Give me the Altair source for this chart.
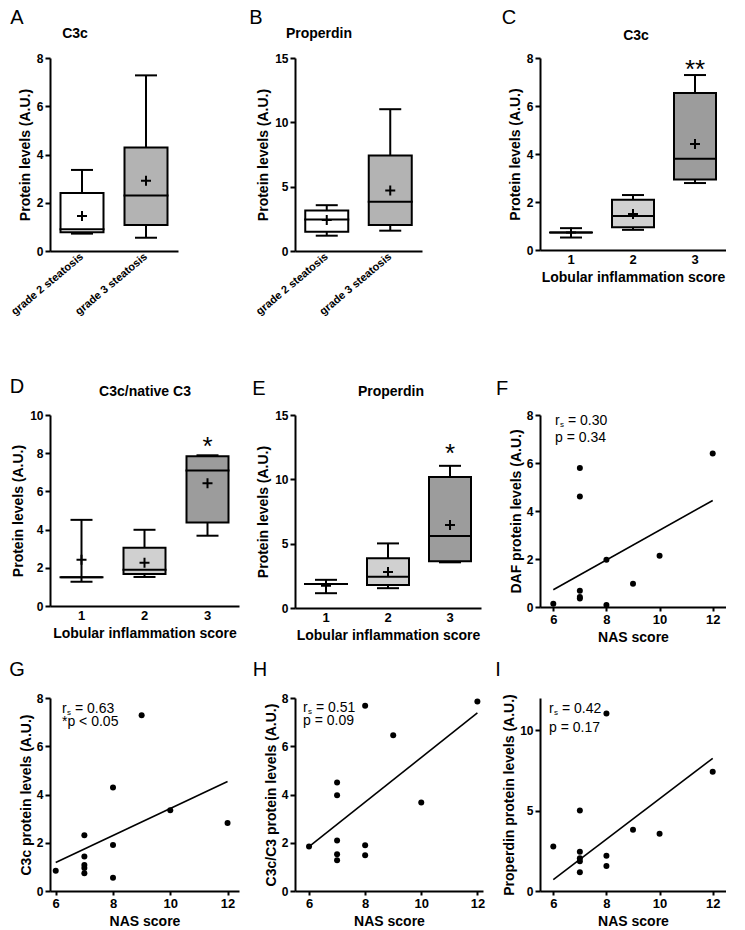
import altair as alt
import pandas as pd

FONT = "Liberation Sans"
YTITLE = "Protein levels (A.U.)"

# ---------- Box-plot data (min, Q1, median, Q3, max, mean) ----------
a_groups = ["grade 2 steatosis", "grade 3 steatosis"]
a_min = [0.72, 0.55]
a_q1 = [0.78, 1.08]
a_med = [0.90, 2.30]
a_q3 = [2.40, 4.29]
a_max = [3.36, 7.28]
a_mean = [1.45, 2.91]
a_fill = ["#ffffff", "#b3b3b3"]

b_groups = ["grade 2 steatosis", "grade 3 steatosis"]
b_min = [1.19, 1.58]
b_q1 = [1.50, 2.02]
b_med = [2.45, 3.82]
b_q3 = [3.15, 7.42]
b_max = [3.56, 11.02]
b_mean = [2.40, 4.71]
b_fill = ["#ffffff", "#b3b3b3"]

score_groups = ["1", "2", "3"]
score_fill = ["#ffffff", "#d0d0d0", "#9c9c9c"]

c_min = [0.52, 0.84, 2.79]
c_q1 = [0.73, 0.95, 2.94]
c_med = [0.73, 1.42, 3.80]
c_q3 = [0.73, 2.09, 6.54]
c_max = [0.91, 2.29, 7.29]
c_mean = [0.73, 1.50, 4.42]

d_min = [1.27, 1.52, 3.68]
d_q1 = [1.50, 1.67, 4.37]
d_med = [1.50, 1.90, 7.09]
d_q3 = [1.50, 3.05, 7.84]
d_max = [4.51, 3.99, 7.89]
d_mean = [2.42, 2.26, 6.43]

e_min = [1.15, 1.54, 3.55]
e_q1 = [1.86, 1.78, 3.63]
e_med = [1.86, 2.43, 5.59]
e_q3 = [1.86, 3.87, 10.19]
e_max = [2.19, 5.02, 11.05]
e_mean = [1.73, 2.80, 6.45]

# ---------- Scatter data (NAS score vs protein levels) ----------
f_nas = [6, 7, 7, 7, 7, 7, 8, 8, 9, 10, 12]
f_val = [0.14, 5.79, 4.60, 0.68, 0.42, 0.35, 1.97, 0.08, 0.97, 2.14, 6.40]
f_fit_x = [6, 12]
f_fit_y = [0.72, 4.44]

g_nas = [6, 7, 7, 7, 7, 7, 8, 8, 8, 9, 10, 12]
g_val = [0.84, 2.31, 1.43, 1.08, 0.95, 0.74, 4.29, 1.91, 0.55, 7.29, 3.35, 2.82]
g_fit_x = [6, 12]
g_fit_y = [1.18, 4.54]

h_nas = [6, 7, 7, 7, 7, 7, 8, 8, 8, 9, 10, 12]
h_val = [1.84, 4.50, 3.97, 2.09, 1.52, 1.27, 7.68, 1.90, 1.48, 6.46, 3.67, 7.86]
h_fit_x = [6, 12]
h_fit_y = [1.84, 7.38]

i_nas = [6, 7, 7, 7, 7, 7, 8, 8, 8, 9, 10, 12]
i_val = [2.77, 5.00, 2.44, 2.04, 1.85, 1.17, 11.04, 2.19, 1.56, 3.81, 3.56, 7.42]
i_fit_x = [6, 12]
i_fit_y = [0.71, 8.25]


def text_layer(t, x, y, size=14, weight="normal", align="center", baseline="middle"):
    return alt.Chart(pd.DataFrame({"t": [t]})).mark_text(
        font=FONT, fontSize=size, fontWeight=weight, align=align,
        baseline=baseline, color="black"
    ).encode(x=alt.value(x), y=alt.value(y), text="t:N")


def box_panel(groups, mins, q1s, meds, q3s, maxs, means, fills, ymax, yticks,
              width, height, letter, letter_xy, title, title_xy,
              xtitle=None, angle=0, star=None, star_y=None, box_w=43, cap_w=22,
              xtitle_pad=4):
    df = pd.DataFrame({"g": groups, "lo": mins, "q1": q1s, "med": meds,
                       "q3": q3s, "hi": maxs, "mean": means, "fill": fills})
    xaxis = alt.Axis(title=xtitle, labelAngle=angle, ticks=False,
                     labelAlign="right" if angle else "center",
                     labelBaseline="middle" if angle else "top",
                     labelPadding=4 if angle else 3, titlePadding=xtitle_pad,
                     labelFontSize=11 if angle else 13)
    x = alt.X("g:N", sort=groups, scale=alt.Scale(paddingInner=0, paddingOuter=0), axis=xaxis)
    ysc = alt.Scale(domain=[0, ymax], nice=False, zero=True)
    yaxis = alt.Axis(values=yticks, title=YTITLE, titlePadding=4)
    base = alt.Chart(df)
    whisk = base.mark_rule(color="black", strokeWidth=2).encode(
        x=x, y=alt.Y("lo:Q", scale=ysc, axis=yaxis), y2="hi:Q")
    box = base.mark_bar(size=box_w, stroke="black", strokeWidth=2).encode(
        x=x, y=alt.Y("q1:Q", scale=ysc, axis=yaxis), y2="q3:Q",
        fill=alt.Fill("fill:N", scale=None))
    med = base.mark_tick(size=box_w + 2, thickness=2, color="black", opacity=1).encode(
        x=x, y=alt.Y("med:Q", scale=ysc, axis=yaxis))
    cap_lo = base.mark_tick(size=cap_w, thickness=2, color="black", opacity=1).encode(
        x=x, y=alt.Y("lo:Q", scale=ysc, axis=yaxis))
    cap_hi = base.mark_tick(size=cap_w, thickness=2, color="black", opacity=1).encode(
        x=x, y=alt.Y("hi:Q", scale=ysc, axis=yaxis))
    mean = base.mark_point(shape="M-1,0L1,0M0,-1L0,1", size=100, filled=False,
                           color="black", strokeWidth=2, opacity=1).encode(
        x=x, y=alt.Y("mean:Q", scale=ysc, axis=yaxis))
    layers = [whisk, box, med, cap_lo, cap_hi, mean,
              text_layer(letter, letter_xy[0], letter_xy[1], size=20),
              text_layer(title, title_xy[0], title_xy[1], size=14, weight="bold")]
    if star:
        sdf = pd.DataFrame({"g": [groups[-1]], "v": [star_y], "t": [star]})
        layers.append(alt.Chart(sdf).mark_text(font=FONT, fontSize=26, color="black",
                                               baseline="middle").encode(
            x=x, y=alt.Y("v:Q", scale=ysc, axis=yaxis), text="t:N"))
    return alt.layer(*layers).properties(width=width, height=height)


def scatter_panel(nas, vals, fx, fy, xdom, ymax, yticks, ytitle, width, height,
                  letter, letter_xy, r_text, p_text, tx, ty1, ty2):
    df = pd.DataFrame({"nas": nas, "v": vals})
    fit = pd.DataFrame({"nas": fx, "v": fy})
    xsc = alt.Scale(domain=xdom, nice=False, zero=False)
    ysc = alt.Scale(domain=[0, ymax], nice=False)
    xaxis = alt.Axis(values=[6, 8, 10, 12], title="NAS score", labelFontSize=13,
                     labelPadding=2, titlePadding=4, tickSize=4)
    yaxis = alt.Axis(values=yticks, title=ytitle, titlePadding=3)
    pts = alt.Chart(df).mark_circle(size=36, color="black", opacity=1).encode(
        x=alt.X("nas:Q", scale=xsc, axis=xaxis), y=alt.Y("v:Q", scale=ysc, axis=yaxis))
    line = alt.Chart(fit).mark_line(color="black", strokeWidth=1.6).encode(
        x=alt.X("nas:Q", scale=xsc, axis=xaxis), y=alt.Y("v:Q", scale=ysc, axis=yaxis))
    layers = [line, pts,
              text_layer(letter, letter_xy[0], letter_xy[1], size=20),
              text_layer("r", tx, ty1, size=14, align="left"),
              text_layer("s", tx + 5, ty1 + 4, size=8, align="left"),
              text_layer(r_text, tx + 13, ty1, size=14, align="left"),
              text_layer(p_text, tx, ty2, size=14, align="left")]
    return alt.layer(*layers).properties(width=width, height=height)


A = box_panel(a_groups, a_min, a_q1, a_med, a_q3, a_max, a_mean, a_fill, 8, [0, 2, 4, 6, 8],
              128, 193, "A", (-33, -40), "C3c", (25, -24), xtitle=" ", angle=-40, xtitle_pad=30)
B = box_panel(b_groups, b_min, b_q1, b_med, b_q3, b_max, b_mean, b_fill, 15, [0, 5, 10, 15],
              127, 193, "B", (-39, -40), "Properdin", (24, -24), angle=-40)
C = box_panel(score_groups, c_min, c_q1, c_med, c_q3, c_max, c_mean, score_fill, 8, [0, 2, 4, 6, 8],
              186, 192, "C", (-31, -40), "C3c", (96, -22), xtitle="Lobular inflammation score",
              star="**", star_y=7.48, box_w=42)
D = box_panel(score_groups, d_min, d_q1, d_med, d_q3, d_max, d_mean, score_fill, 10, [0, 2, 4, 6, 8, 10],
              189, 191, "D", (-33, -28), "C3c/native C3", (95, -23), xtitle="Lobular inflammation score",
              star="*", star_y=8.35, box_w=42)
E = box_panel(score_groups, e_min, e_q1, e_med, e_q3, e_max, e_mean, score_fill, 15, [0, 5, 10, 15],
              186, 193, "E", (-36, -26), "Properdin", (96, -23), xtitle="Lobular inflammation score",
              star="*", star_y=12.0, box_w=42)
F = scatter_panel(f_nas, f_val, f_fit_x, f_fit_y, [5.5, 12.5], 8, [0, 2, 4, 6, 8],
                  "DAF protein levels (A.U.)", 186, 192, "F", (-38, -26),
                  "= 0.30", "p = 0.34", 15, 6, 23)
G = scatter_panel(g_nas, g_val, g_fit_x, g_fit_y, [5.8, 12.4], 8, [0, 2, 4, 6, 8],
                  "C3c protein levels (A.U.)", 189, 193, "G", (-33, -28),
                  "= 0.63", "*p < 0.05", 12, 11, 24)
H = scatter_panel(h_nas, h_val, h_fit_x, h_fit_y, [5.5, 12.2], 8, [0, 2, 4, 6, 8],
                  "C3c/C3 protein levels (A.U.)", 188, 193, "H", (-35, -28),
                  "= 0.51", "p = 0.09", 8, 10, 23)
I = scatter_panel(i_nas, i_val, i_fit_x, i_fit_y, [5.5, 12.5], 12, [0, 5, 10],
                  "Properdin protein levels (A.U.)", 186, 193, "I", (-42, -28),
                  "= 0.42", "p = 0.17", 9, 11, 30)

chart = alt.concat(A, B, C, D, E, F, G, H, I, columns=3,
                   spacing={"row": 16, "column": 10}, align="each").properties(
    padding=0, background="white"
).configure_axis(
    domainColor="black", domainWidth=2, tickColor="black", tickWidth=2, tickSize=5,
    labelFont=FONT, labelFontSize=12, labelFontWeight="bold", labelColor="black",
    titleFont=FONT, titleFontSize=14, titleFontWeight="bold", titleColor="black",
    grid=False, labelPadding=2
).configure_view(stroke=None)

chart.save("out.html", embed_options={"renderer": "svg", "actions": False})
